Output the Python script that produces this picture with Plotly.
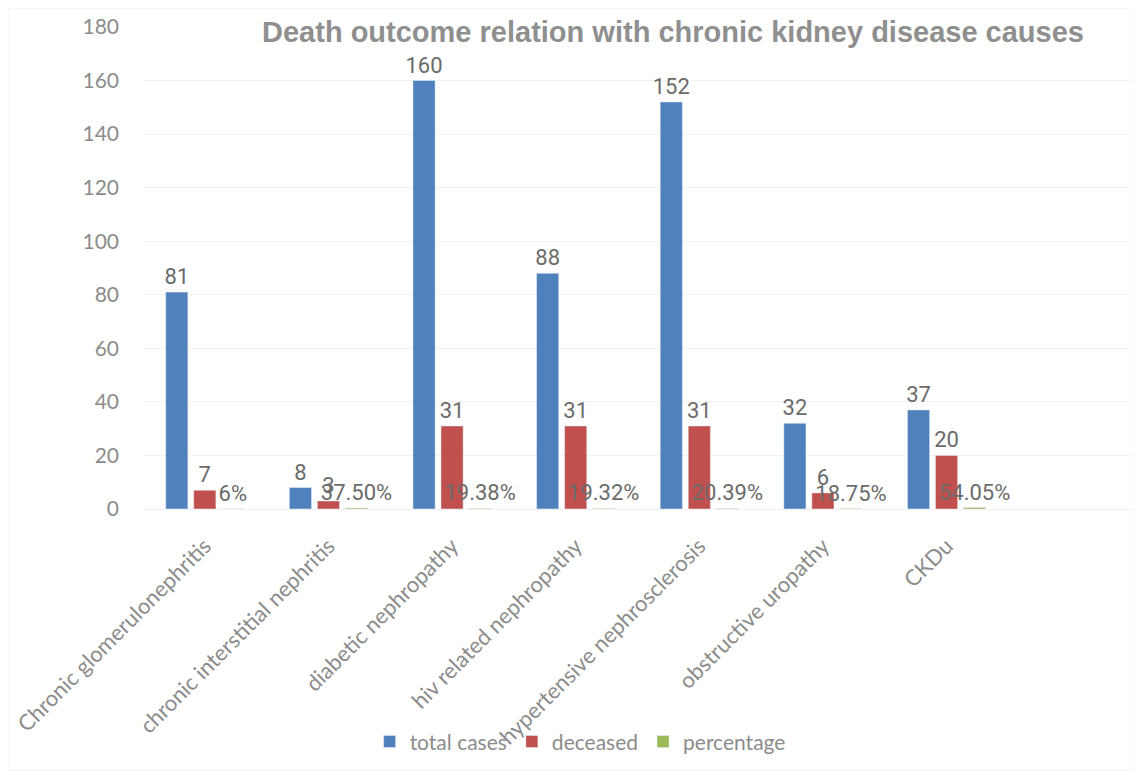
import plotly.graph_objects as go

categories = ["Chronic glomerulonephritis", "chronic interstitial nephritis", "diabetic nephropathy",
              "hiv related nephropathy", "hypertensive nephrosclerosis", "obstructive uropathy", "CKDu"]
total_cases = [81, 8, 160, 88, 152, 32, 37]
deceased = [7, 3, 31, 31, 31, 6, 20]
percentage = [0.06, 0.375, 0.1938, 0.1932, 0.2039, 0.1875, 0.5405]
percentage_labels = ["6%", "37.50%", "19.38%", "19.32%", "20.39%", "18.75%", "54.05%"]
y_ticks = [0, 20, 40, 60, 80, 100, 120, 140, 160, 180]

label_font = dict(family="Roboto, Lato, sans-serif", size=22, color="#6b6b6b")

fig = go.Figure()
fig.add_trace(go.Bar(x=categories, y=total_cases, name="total cases", marker_color="#4f81bd",
                     text=[str(v) for v in total_cases], textposition="outside",
                     textfont=label_font, cliponaxis=False, constraintext="none"))
fig.add_trace(go.Bar(x=categories, y=deceased, name="deceased", marker_color="#c0504d",
                     text=[str(v) for v in deceased], textposition="outside",
                     textfont=label_font, cliponaxis=False, constraintext="none"))
fig.add_trace(go.Bar(x=categories, y=percentage, name="percentage", marker_color="#9bbb59",
                     text=percentage_labels, textposition="outside",
                     textfont=label_font, cliponaxis=False, constraintext="none"))

# page is offset by the 8px default body margin; compensate
W, H = 1134, 770
fig.update_layout(
    width=W, height=H,
    margin=dict(l=135, r=10, t=19, b=269, autoexpand=False),
    paper_bgcolor="white", plot_bgcolor="white",
    barmode="group", bargap=0.32, bargroupgap=0.21,
    title=dict(text="<b>Death outcome relation with chronic kidney disease causes</b>",
               x=665 / W, xref="container", xanchor="center",
               y=1 - 24 / H, yref="container", yanchor="middle",
               font=dict(family="Liberation Sans, Arial, sans-serif", size=29, color="#8f8f8f")),
    xaxis=dict(type="category", range=[-0.5, 7.5], tickangle=-45, automargin=False,
               tickfont=dict(family="Lato, sans-serif", size=22, color="#8c8c8c"),
               ticklabelstandoff=19,
               showgrid=False, showline=False, ticks="", zeroline=False),
    yaxis=dict(range=[0, 180], tickvals=y_ticks, showgrid=True, gridcolor="#f2f2f2", gridwidth=1,
               zeroline=True, zerolinecolor="#f0f0f0", zerolinewidth=1, automargin=False,
               tickfont=dict(family="Lato, sans-serif", size=21, color="#8c8c8c"),
               ticks="", ticklabelstandoff=23, showline=False),
    legend=dict(orientation="h", x=0.442, xanchor="center", y=-0.483, yanchor="middle",
                font=dict(family="Lato, sans-serif", size=21, color="#8c8c8c"),
                itemwidth=30, bgcolor="rgba(0,0,0,0)"),
    showlegend=True,
)

fig.add_shape(type="rect", xref="paper", yref="paper",
              x0=-135 / 989, x1=1 + 2 / 989, y0=-261 / 482, y1=1 + 19 / 482,
              line=dict(color="#f0f0f0", width=1), fillcolor="rgba(0,0,0,0)", layer="below")

fig.write_html("out.html")
